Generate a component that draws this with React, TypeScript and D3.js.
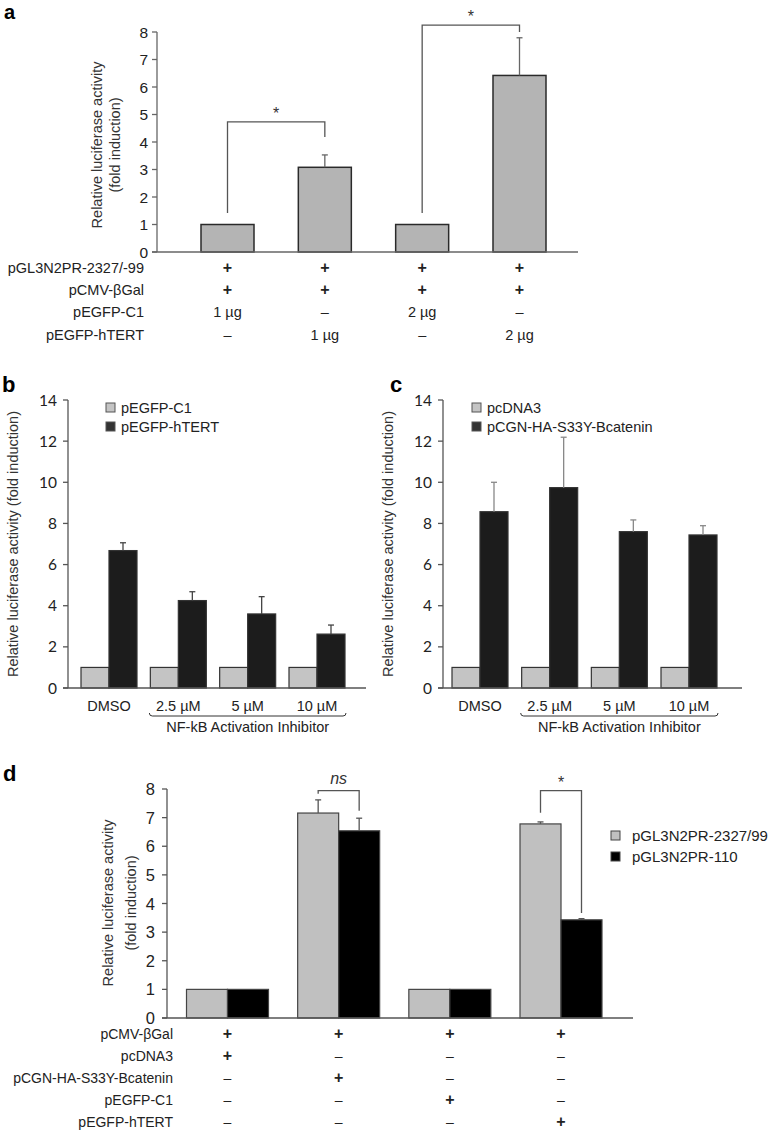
import React from "react";
import * as d3 from "d3";

// ---------- Panel a data ----------
const aConditions = ["c1", "c2", "c3", "c4"];
const aValues = [1, 3.08, 1, 6.42];
const aErrors = [0, 0.45, 0, 1.37];
const aTicks = [0, 1, 2, 3, 4, 5, 6, 7, 8];
const aRowLabels = ["pGL3N2PR-2327/-99", "pCMV-\u03b2Gal", "pEGFP-C1", "pEGFP-hTERT"];
const aRowEntries = [
  ["+", "+", "+", "+"],
  ["+", "+", "+", "+"],
  ["1 \u00b5g", "\u2013", "2 \u00b5g", "\u2013"],
  ["\u2013", "1 \u00b5g", "\u2013", "2 \u00b5g"],
];
// brackets: [leftIdx, rightIdx, topValue, leftBottom, rightBottom]
const aBrackets = [
  [0, 1, 4.73, 1.42, 4.18],
  [2, 3, 8.25, 1.42, 8.0],
];

// ---------- Panel b data ----------
const inhibitorGroups = ["DMSO", "2.5 \u00b5M", "5 \u00b5M", "10 \u00b5M"];
const bSeriesNames = ["pEGFP-C1", "pEGFP-hTERT"];
const bControl = [1, 1, 1, 1];
const bHTERT = [6.68, 4.25, 3.6, 2.62];
const bHTERTErr = [0.38, 0.43, 0.84, 0.44];
const bcTicks = [0, 2, 4, 6, 8, 10, 12, 14];

// ---------- Panel c data ----------
const cSeriesNames = ["pcDNA3", "pCGN-HA-S33Y-Bcatenin"];
const cControl = [1, 1, 1, 1];
const cBcat = [8.57, 9.74, 7.6, 7.44];
const cBcatErr = [1.43, 2.45, 0.57, 0.45];

// ---------- Panel d data ----------
const dConditions = ["d1", "d2", "d3", "d4"];
const dSeriesNames = ["pGL3N2PR-2327/99", "pGL3N2PR-110"];
const dLong = [1, 7.16, 1, 6.78];
const dLongErr = [0, 0.46, 0, 0.07];
const dShort = [1, 6.54, 1, 3.43];
const dShortErr = [0, 0.44, 0, 0.04];
const dTicks = [0, 1, 2, 3, 4, 5, 6, 7, 8];
const dRowLabels = ["pCMV-\u03b2Gal", "pcDNA3", "pCGN-HA-S33Y-Bcatenin", "pEGFP-C1", "pEGFP-hTERT"];
const dRowEntries = [
  ["+", "+", "+", "+"],
  ["+", "\u2013", "\u2013", "\u2013"],
  ["\u2013", "+", "\u2013", "\u2013"],
  ["\u2013", "\u2013", "+", "\u2013"],
  ["\u2013", "\u2013", "\u2013", "+"],
];
// [groupIdx, label, topValue, leftBottom, rightBottom]
const dBrackets: [number, string, number, number, number][] = [
  [1, "ns", 7.94, 7.83, 7.24],
  [3, "*", 7.94, 7.17, 3.67],
];

const FONT = "'Liberation Sans', Arial, sans-serif";
const FONT2 = "Lato, 'Liberation Sans', sans-serif";

function ErrBar({ x, y0, y1, color = "#555" }: { x: number; y0: number; y1: number; color?: string }) {
  return (
    <g stroke={color} strokeWidth={1.3}>
      <line x1={x} x2={x} y1={y0} y2={y1} />
      <line x1={x - 3} x2={x + 3} y1={y1} y2={y1} />
    </g>
  );
}

function PanelA() {
  const y = d3.scaleLinear().domain([0, 8]).range([252, 32]);
  const x = d3.scalePoint<string>().domain(aConditions).range([227.5, 519.5]);
  const bw = 53;
  const axX = 157;
  const rowY = [268, 290, 312, 335];
  return (
    <g fontFamily={FONT}>
      <text x={4} y={19} fontSize={20} fontWeight="bold">a</text>
      {aConditions.map((c, i) => (
        <rect key={c} x={x(c)! - bw / 2} y={y(aValues[i])} width={bw} height={y(0) - y(aValues[i])}
          fill="#b4b4b4" stroke="#2a2a2a" strokeWidth={1.5} />
      ))}
      {aConditions.map((c, i) =>
        aErrors[i] > 0 ? <ErrBar key={c} x={x(c)!} y0={y(aValues[i])} y1={y(aValues[i] + aErrors[i])} color="#666" /> : null
      )}
      <line x1={axX} x2={axX} y1={y(8)} y2={y(0)} stroke="#666" strokeWidth={1.3} />
      <line x1={axX - 5} x2={578} y1={y(0)} y2={y(0)} stroke="#666" strokeWidth={1.3} />
      {aTicks.map((t) => (
        <g key={t}>
          <line x1={axX - 5} x2={axX} y1={y(t)} y2={y(t)} stroke="#666" strokeWidth={1.3} />
          <text x={axX - 9} y={y(t) + 5.5} fontSize={15.5} textAnchor="end" fill="#222">{t}</text>
        </g>
      ))}
      <text transform={`translate(102,145) rotate(-90)`} fontSize={14.5} textAnchor="middle" fill="#333">Relative luciferase activity</text>
      <text transform={`translate(120,145) rotate(-90)`} fontSize={14.5} textAnchor="middle" fill="#333">(fold induction)</text>
      {aBrackets.map(([l, r, top, lb, rb], k) => {
        const xl = x(aConditions[l])!;
        const xr = x(aConditions[r])!;
        return (
          <g key={k}>
            <path d={`M${xl},${y(lb)} V${y(top)} H${xr} V${y(rb)}`} fill="none" stroke="#555" strokeWidth={1.3} />
            <text x={(xl + xr) / 2} y={y(top) - 3} fontSize={16} textAnchor="middle" fill="#333">*</text>
          </g>
        );
      })}
      {aRowLabels.map((lab, r) => (
        <g key={lab}>
          <text x={144} y={rowY[r] + 5} fontSize={14.5} textAnchor="end" fill="#222">{lab}</text>
          {aRowEntries[r].map((e, i) => (
            <text key={i} x={x(aConditions[i])!} y={rowY[r] + 5} fontSize={e === "+" ? 16 : 14.5} fontWeight={e === "+" ? "bold" : "normal"} textAnchor="middle" fill="#222">{e}</text>
          ))}
        </g>
      ))}
    </g>
  );
}

function PanelBC({ label, ox, axX, centers, ctrl, treat, treatErr, names, legendX, errColor, axisEnd }: any) {
  const y = d3.scaleLinear().domain([0, 14]).range([688, 400]);
  const x = d3.scalePoint<string>().domain(inhibitorGroups).range(centers);
  const bw = 28;
  const x0 = x(inhibitorGroups[1])! - bw - 1;
  const x1 = x(inhibitorGroups[3])! + bw + 1;
  const by = 716;
  return (
    <g fontFamily={FONT}>
      <text x={ox} y={392} fontSize={22} fontWeight="bold">{label}</text>
      {inhibitorGroups.map((g, i) => (
        <g key={g}>
          <rect x={x(g)! - bw} y={y(ctrl[i])} width={bw} height={y(0) - y(ctrl[i])} fill="#c4c4c4" stroke="#333" strokeWidth={1.2} />
          <rect x={x(g)!} y={y(treat[i])} width={bw} height={y(0) - y(treat[i])} fill="#1c1c1c" stroke="#333" strokeWidth={1.2} />
          <ErrBar x={x(g)! + bw / 2} y0={y(treat[i])} y1={y(treat[i] + treatErr[i])} color={errColor} />
        </g>
      ))}
      <line x1={axX} x2={axX} y1={y(14)} y2={y(0)} stroke="#555" strokeWidth={1.3} />
      <line x1={axX - 5} x2={axisEnd} y1={y(0)} y2={y(0)} stroke="#555" strokeWidth={1.3} />
      {bcTicks.map((t) => (
        <g key={t}>
          <line x1={axX - 5} x2={axX} y1={y(t)} y2={y(t)} stroke="#555" strokeWidth={1.3} />
          <text x={axX - 11} y={y(t) + 5.5} fontSize={15.5} textAnchor="end" fontFamily={FONT2} fill="#222">{t}</text>
        </g>
      ))}
      <text transform={`translate(${axX - 50},544) rotate(-90)`} fontSize={14.5} textAnchor="middle" fill="#333">Relative luciferase activity (fold induction)</text>
      {names.map((n: string, k: number) => (
        <g key={n}>
          <rect x={legendX} y={403 + k * 19} width={9} height={9} fill={k === 0 ? "#c4c4c4" : "#333"} stroke="#555" strokeWidth={1} />
          <text x={legendX + 15} y={412.5 + k * 19} fontSize={14.5} fill="#222">{n}</text>
        </g>
      ))}
      {inhibitorGroups.map((g) => (
        <text key={g} x={x(g)!} y={711} fontSize={14.5} textAnchor="middle" fill="#222">{g}</text>
      ))}
      <path d={`M${x0},${by - 3} Q${x0},${by} ${x0 + 3},${by} H${x1 - 3} Q${x1},${by} ${x1},${by - 3}`} fill="none" stroke="#333" strokeWidth={1} />
      <text x={(x0 + x1) / 2} y={732} fontSize={14.5} textAnchor="middle" fill="#222">NF-kB Activation Inhibitor</text>
    </g>
  );
}

function PanelD() {
  const y = d3.scaleLinear().domain([0, 8]).range([1018, 789]);
  const x = d3.scalePoint<string>().domain(dConditions).range([227.5, 561]);
  const bw = 41;
  const axX = 167;
  const rowY = [1034, 1056, 1078, 1100, 1122];
  return (
    <g fontFamily={FONT}>
      <text x={3} y={781} fontSize={22} fontWeight="bold">d</text>
      {dConditions.map((c, i) => (
        <g key={c}>
          <rect x={x(c)! - bw} y={y(dLong[i])} width={bw} height={y(0) - y(dLong[i])} fill="#c0c0c0" stroke="#444" strokeWidth={1.2} />
          <rect x={x(c)!} y={y(dShort[i])} width={bw} height={y(0) - y(dShort[i])} fill="#000" stroke="#444" strokeWidth={1.2} />
          {dLongErr[i] > 0 ? <ErrBar x={x(c)! - bw / 2} y0={y(dLong[i])} y1={y(dLong[i] + dLongErr[i])} /> : null}
          {dShortErr[i] > 0 ? <ErrBar x={x(c)! + bw / 2} y0={y(dShort[i])} y1={y(dShort[i] + dShortErr[i])} /> : null}
        </g>
      ))}
      <line x1={axX} x2={axX} y1={y(8)} y2={y(0)} stroke="#555" strokeWidth={1.3} />
      <line x1={axX - 5} x2={633} y1={y(0)} y2={y(0)} stroke="#555" strokeWidth={1.3} />
      {dTicks.map((t) => (
        <g key={t}>
          <line x1={axX - 5} x2={axX} y1={y(t)} y2={y(t)} stroke="#555" strokeWidth={1.3} />
          <text x={axX - 12} y={y(t) + 6} fontSize={16.5} textAnchor="end" fill="#222">{t}</text>
        </g>
      ))}
      <text transform={`translate(113,903) rotate(-90)`} fontSize={14.5} textAnchor="middle" fill="#333">Relative luciferase activity</text>
      <text transform={`translate(136,903) rotate(-90)`} fontSize={14.5} textAnchor="middle" fill="#333">(fold induction)</text>
      {dBrackets.map(([g, lab, top, lb, rb]) => {
        const xl = x(dConditions[g])! - bw / 2;
        const xr = x(dConditions[g])! + bw / 2;
        return (
          <g key={g}>
            <path d={`M${xl},${y(lb)} V${y(top)} H${xr} V${y(rb)}`} fill="none" stroke="#555" strokeWidth={1.3} />
            <text x={(xl + xr) / 2} y={lab === "ns" ? y(top) - 7 : y(top) - 3} fontSize={16}
              fontStyle={lab === "ns" ? "italic" : "normal"} textAnchor="middle" fill="#333">{lab}</text>
          </g>
        );
      })}
      {dSeriesNames.map((n, k) => (
        <g key={n}>
          <rect x={611} y={831 + k * 21} width={9} height={9} fill={k === 0 ? "#c0c0c0" : "#000"} stroke="#444" strokeWidth={1} />
          <text x={632} y={841 + k * 21} fontSize={15} fill="#222">{n}</text>
        </g>
      ))}
      {dRowLabels.map((lab, r) => (
        <g key={lab}>
          <text x={173} y={rowY[r] + 5} fontSize={14} textAnchor="end" fill="#222">{lab}</text>
          {dRowEntries[r].map((e, i) => (
            <text key={i} x={x(dConditions[i])!} y={rowY[r] + 5} fontSize={e === "+" ? 16 : 14} fontWeight={e === "+" ? "bold" : "normal"} textAnchor="middle" fill="#222">{e}</text>
          ))}
        </g>
      ))}
    </g>
  );
}

export default function App() {
  return (
    <svg width={774} height={1133} style={{ position: "absolute", left: 0, top: 0, background: "#fff" }}>
      <rect width={774} height={1133} fill="#fff" />
      <PanelA />
      <PanelBC label="b" ox={2} axX={68} centers={[109, 317]} ctrl={bControl} treat={bHTERT} treatErr={bHTERTErr}
        names={bSeriesNames} legendX={106} errColor="#444" axisEnd={366} />
      <PanelBC label="c" ox={390} axX={443} centers={[480, 689]} ctrl={cControl} treat={cBcat} treatErr={cBcatErr}
        names={cSeriesNames} legendX={472} errColor="#888" axisEnd={742} />
      <PanelD />
    </svg>
  );
}
